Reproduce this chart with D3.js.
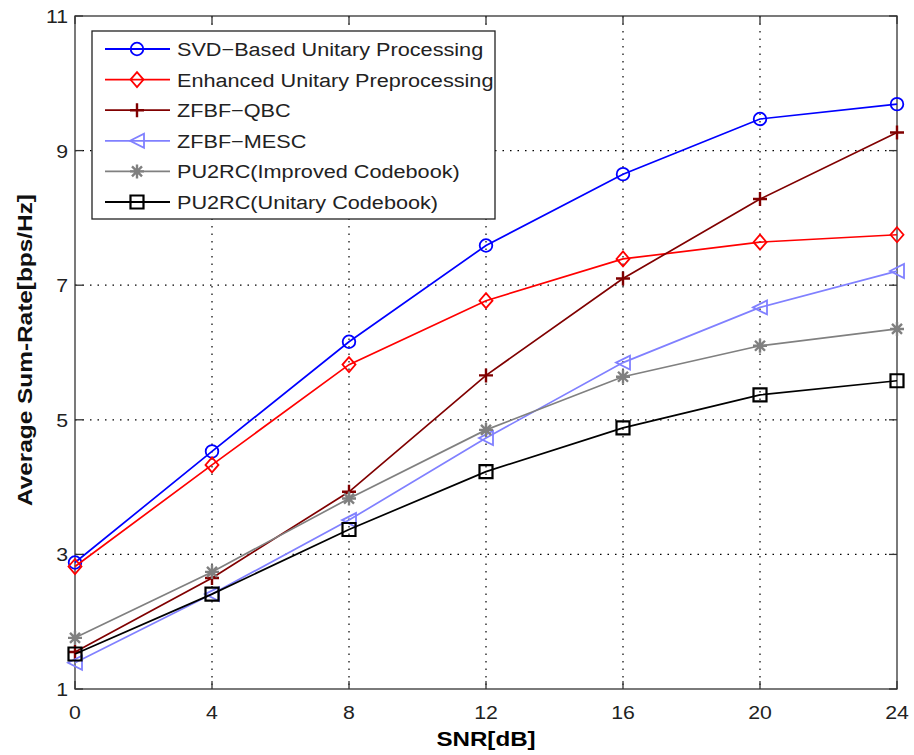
<!DOCTYPE html>
<head>
    <meta charset="utf-8">
    <title>Average Sum-Rate vs SNR</title>
    <script src="https://d3js.org/d3.v7.min.js"></script>
    <style>
        body { margin:0; background:#fff; }
        svg { font-family: "Liberation Sans", Arial, sans-serif; }
    </style>
</head>

<body>
    <svg id="chart" width="914" height="755"></svg>
    <script>
        // data
        const snr = [0, 4, 8, 12, 16, 20, 24];
        const svdBased   = [2.88, 4.53, 6.16, 7.59, 8.65, 9.47, 9.69];
        const enhanced   = [2.82, 4.33, 5.82, 6.77, 7.39, 7.64, 7.75];
        const zfbfQbc    = [1.55, 2.65, 3.93, 5.66, 7.10, 8.28, 9.27];
        const zfbfMesc   = [1.39, 2.41, 3.51, 4.73, 5.85, 6.67, 7.21];
        const pu2rcImpr  = [1.76, 2.74, 3.83, 4.85, 5.64, 6.10, 6.35];
        const pu2rcUnit  = [1.52, 2.41, 3.37, 4.23, 4.88, 5.37, 5.58];
        const xTicks = [0, 4, 8, 12, 16, 20, 24];
        const yTicks = [1, 3, 5, 7, 9, 11];

        const series = [
            {name: "SVD\u2212Based Unitary Processing", values: svdBased, color: "#0000ff", marker: "circle"},
            {name: "Enhanced Unitary Preprocessing", values: enhanced, color: "#ff0000", marker: "diamond"},
            {name: "ZFBF\u2212QBC", values: zfbfQbc, color: "#800000", marker: "plus"},
            {name: "ZFBF\u2212MESC", values: zfbfMesc, color: "#8080ff", marker: "triangle"},
            {name: "PU2RC(Improved Codebook)", values: pu2rcImpr, color: "#808080", marker: "star"},
            {name: "PU2RC(Unitary Codebook)", values: pu2rcUnit, color: "#000000", marker: "square"}
        ];

        const pLeft = 75, pRight = 897, pTop = 16, pBottom = 689;
        const stretch = 1.12; // the figure's text is a bit wider than Liberation Sans

        const x = d3.scaleLinear().domain([0, 24]).range([pLeft, pRight]);
        const y = d3.scaleLinear().domain([1, 11]).range([pBottom, pTop]);

        const svg = d3.select("#chart");

        // marker shapes centred on 0,0
        function markerPath(type) {
            switch (type) {
                case "circle": {
                    const p = d3.path(); p.arc(0, 0, 6.3, 0, 2 * Math.PI); return p.toString();
                }
                case "diamond": return "M0,-7.5L6.5,0L0,7.5L-6.5,0Z";
                case "plus": return "M-7,0L7,0M0,-7L0,7";
                case "triangle": return "M-7,0L7,-7L7,7Z";
                case "star": return "M-7,0L7,0M0,-7L0,7M-5,-5L5,5M-5,5L5,-5";
                case "square": return "M-6.5,-6.5L6.5,-6.5L6.5,6.5L-6.5,6.5Z";
            }
        }
        const markerWidth = m => m === "square" ? 2.2 : (m === "plus" || m === "star") ? 2.4 : 1.8;

        // grid
        const grid = svg.append("g")
                .attr("stroke", "#000")
                .attr("stroke-width", 1.2)
                .attr("stroke-dasharray", "1.5,6");
        grid.selectAll(".gx")
                .data(xTicks.slice(1, -1))
                .join("line")
                .attr("x1", d => x(d)).attr("x2", d => x(d))
                .attr("y1", pTop).attr("y2", pBottom);
        grid.selectAll(".gy")
                .data(yTicks.slice(1, -1))
                .join("line")
                .attr("y1", d => y(d)).attr("y2", d => y(d))
                .attr("x1", pLeft).attr("x2", pRight);

        // axes (ticks inward, box on)
        const tickLen = 8;
        const axisG = svg.append("g").attr("stroke", "#333").attr("stroke-width", 1.3);
        axisG.append("rect")
                .attr("x", pLeft).attr("y", pTop)
                .attr("width", pRight - pLeft).attr("height", pBottom - pTop)
                .attr("fill", "none");
        xTicks.forEach(t => {
            axisG.append("line").attr("x1", x(t)).attr("x2", x(t)).attr("y1", pBottom).attr("y2", pBottom - tickLen);
            axisG.append("line").attr("x1", x(t)).attr("x2", x(t)).attr("y1", pTop).attr("y2", pTop + tickLen);
        });
        yTicks.forEach(t => {
            axisG.append("line").attr("y1", y(t)).attr("y2", y(t)).attr("x1", pLeft).attr("x2", pLeft + tickLen);
            axisG.append("line").attr("y1", y(t)).attr("y2", y(t)).attr("x1", pRight).attr("x2", pRight - tickLen);
        });

        svg.append("g").selectAll("text")
                .data(xTicks)
                .join("text")
                .attr("transform", d => `translate(${x(d)},${pBottom + 30}) scale(${stretch},1)`)
                .attr("text-anchor", "middle")
                .attr("font-size", 19)
                .attr("fill", "#222")
                .text(d => d);

        svg.append("g").selectAll("text")
                .data(yTicks)
                .join("text")
                .attr("transform", d => `translate(${pLeft - 7},${y(d) + 7}) scale(${stretch},1)`)
                .attr("text-anchor", "end")
                .attr("font-size", 19)
                .attr("fill", "#222")
                .text(d => d);

        svg.append("text")
                .attr("transform", `translate(${(pLeft + pRight) / 2},746) scale(1.15,1)`)
                .attr("text-anchor", "middle")
                .attr("font-size", 21)
                .attr("font-weight", "bold")
                .text("SNR[dB]");

        svg.append("text")
                .attr("transform", `translate(32,350) rotate(-90)`)
                .attr("text-anchor", "middle")
                .attr("font-size", 20)
                .attr("font-weight", "bold")
                .attr("fill", "#111")
                .attr("textLength", 312)
                .attr("lengthAdjust", "spacingAndGlyphs")
                .text("Average Sum-Rate[bps/Hz]");

        // lines and markers
        const line = d3.line().x((d, i) => x(snr[i])).y(d => y(d));
        const sg = svg.append("g").selectAll("g")
                .data(series)
                .join("g");
        sg.append("path")
                .attr("fill", "none")
                .attr("stroke", d => d.color)
                .attr("stroke-width", 1.7)
                .attr("d", d => line(d.values));
        sg.each(function (s) {
            d3.select(this).selectAll(".m")
                    .data(s.values)
                    .join("path")
                    .attr("transform", (d, i) => `translate(${x(snr[i])},${y(d)})`)
                    .attr("d", markerPath(s.marker))
                    .attr("fill", "none")
                    .attr("stroke", s.color)
                    .attr("stroke-width", markerWidth(s.marker));
        });

        // legend
        const lx = 92, ly = 31, lw = 403, lh = 188;
        const legend = svg.append("g");
        legend.append("rect")
                .attr("x", lx).attr("y", ly)
                .attr("width", lw).attr("height", lh)
                .attr("fill", "#fff")
                .attr("stroke", "#222")
                .attr("stroke-width", 1.3);
        const rows = legend.selectAll(".row")
                .data(series)
                .join("g")
                .attr("transform", (d, i) => `translate(0,${49 + i * 30.6})`);
        rows.append("line")
                .attr("x1", 105).attr("x2", 170)
                .attr("stroke", d => d.color)
                .attr("stroke-width", 1.8);
        rows.append("path")
                .attr("transform", "translate(137,0)")
                .attr("d", d => markerPath(d.marker))
                .attr("fill", "none")
                .attr("stroke", d => d.color)
                .attr("stroke-width", d => markerWidth(d.marker));
        rows.append("text")
                .attr("transform", `translate(177,7) scale(1.14,1)`)
                .attr("font-size", 19)
                .attr("fill", "#222")
                .text(d => d.name);
    </script>
</body>
